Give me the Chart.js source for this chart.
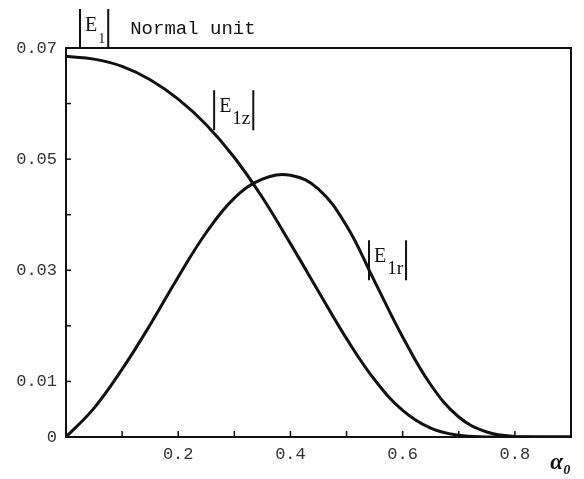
<!DOCTYPE html>
<html>
<head>
<meta charset="utf-8">
<script src="https://cdn.jsdelivr.net/npm/chart.js@4/dist/chart.umd.min.js"></script>
<style>
  html, body { margin: 0; padding: 0; background: #fff; }
  #wrap { width: 584px; height: 479px; }
</style>
</head>
<body>
<div id="wrap"><canvas id="chart" width="584" height="479"></canvas></div>
<script>
"use strict";

// alpha_0 sample positions and field magnitudes
var alpha = [0, 0.05, 0.1, 0.15, 0.2, 0.25, 0.3, 0.35, 0.4, 0.45, 0.5, 0.55, 0.6, 0.65, 0.7, 0.75, 0.8, 0.9];
var e1z = [0.0685, 0.0680, 0.0667, 0.0643, 0.0608, 0.0562, 0.0503, 0.0431, 0.0348, 0.0262, 0.0177, 0.0103, 0.0048, 0.0016, 0.0003, 0, 0, 0];
var e1r = [0, 0.0052, 0.0122, 0.0202, 0.0288, 0.0368, 0.0430, 0.0464, 0.0471, 0.0446, 0.0380, 0.0280, 0.0180, 0.0094, 0.0036, 0.0009, 0.0001, 0];

var xTickLabels = ["0.2", "0.4", "0.6", "0.8"];
var yTickLabels = ["0", "0.01", "0.03", "0.05", "0.07"];

function toPoints(ys) {
    return alpha.map(function(a, i) { return { x: a, y: ys[i] }; });
}

// draws |E sub| with tall bars, like the hand-lettered labels
function drawAbs(ctx, px, py, sub, subSize) {
    ctx.lineWidth = 2;
    ctx.beginPath();
    ctx.moveTo(px, py - 20); ctx.lineTo(px, py + 20);
    ctx.stroke();
    ctx.font = "20px 'Liberation Serif'";
    ctx.textBaseline = "alphabetic";
    ctx.textAlign = "left";
    ctx.fillText("E", px + 5, py + 2);
    var w = ctx.measureText("E").width;
    ctx.font = subSize + "px 'Liberation Serif'";
    ctx.fillText(sub, px + 6 + w, py + 14);
    var sw = ctx.measureText(sub).width;
    var rx = px + 9 + w + sw;
    ctx.beginPath();
    ctx.moveTo(rx, py - 20); ctx.lineTo(rx, py + 20);
    ctx.stroke();
    return rx;
}

var framePlugin = {
    id: "frame",
    afterDraw: function(chart) {
        var ctx = chart.ctx;
        var a = chart.chartArea;
        var x = chart.scales.x, y = chart.scales.y;
        ctx.save();
        ctx.strokeStyle = "#111";
        ctx.fillStyle = "#111";
        ctx.lineWidth = 2;
        ctx.strokeRect(a.left, a.top, a.right - a.left, a.bottom - a.top);

        // inward tick marks
        ctx.lineWidth = 1.5;
        x.ticks.forEach(function(t) {
            var p = x.getPixelForValue(t.value);
            ctx.beginPath(); ctx.moveTo(p, a.bottom); ctx.lineTo(p, a.bottom - 6); ctx.stroke();
        });
        y.ticks.forEach(function(t) {
            var p = y.getPixelForValue(t.value);
            ctx.beginPath(); ctx.moveTo(a.left, p); ctx.lineTo(a.left + 5, p); ctx.stroke();
        });

        // heading above the frame
        var rx = drawAbs(ctx, a.left + 14, a.top - 19, "1", 14);
        ctx.font = "19px 'Liberation Mono'";
        ctx.textAlign = "left";
        ctx.fillText("Normal unit", rx + 22, a.top - 14);

        // curve labels, placed by data position
        drawAbs(ctx, x.getPixelForValue(0.264), y.getPixelForValue(0.0588), "1z", 19);
        drawAbs(ctx, x.getPixelForValue(0.54), y.getPixelForValue(0.0318), "1r", 19);
        ctx.restore();
    }
};

new Chart(document.getElementById("chart"), {
    type: "line",
    data: {
        datasets: [{
            label: "|E1z|",
            data: toPoints(e1z),
            borderColor: "#111",
            borderWidth: 3,
            pointRadius: 0,
            tension: 0.4
        }, {
            label: "|E1r|",
            data: toPoints(e1r),
            borderColor: "#111",
            borderWidth: 3,
            pointRadius: 0,
            tension: 0.4
        }]
    },
    options: {
        responsive: false,
        animation: false,
        layout: { padding: { top: 48, right: 13, left: 0, bottom: 0 } },
        scales: {
            x: {
                type: "linear",
                min: 0,
                max: 0.9,
                grid: { display: false, drawTicks: false },
                border: { display: false },
                afterFit: function(scale) { scale.height = 42; },
                ticks: {
                    stepSize: 0.1,
                    autoSkip: false,
                    maxRotation: 0,
                    padding: 7,
                    color: "#333",
                    font: { family: "'Liberation Mono'", size: 17 },
                    callback: function(v) {
                        var s = v.toFixed(1);
                        return xTickLabels.indexOf(s) >= 0 ? s : "";
                    }
                },
                title: {
                    display: true,
                    text: "α₀",
                    align: "end",
                    color: "#111",
                    padding: { top: 0, bottom: 2 },
                    font: { family: "'Liberation Serif'", size: 23, weight: "bold", style: "italic" }
                }
            },
            y: {
                min: 0,
                max: 0.07,
                grid: { display: false, drawTicks: false },
                border: { display: false },
                afterFit: function(scale) { scale.width = 66; },
                ticks: {
                    stepSize: 0.01,
                    autoSkip: false,
                    padding: 9,
                    color: "#333",
                    font: { family: "'Liberation Mono'", size: 17 },
                    callback: function(v) {
                        var s = Math.round(v * 100) === 0 ? "0" : v.toFixed(2);
                        return yTickLabels.indexOf(s) >= 0 ? s : "";
                    }
                }
            }
        },
        plugins: {
            legend: { display: false },
            tooltip: { enabled: false }
        }
    },
    plugins: [framePlugin]
});
</script>
</body>
</html>
